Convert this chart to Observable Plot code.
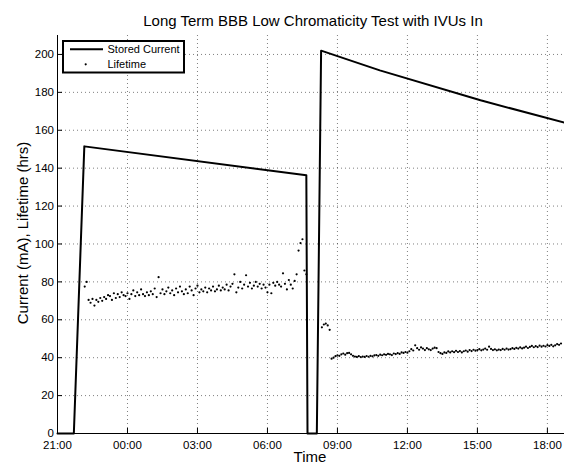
<!DOCTYPE html>
<html><head><meta charset="utf-8">
<script src="https://cdn.jsdelivr.net/npm/d3@7"></script>
<script src="https://cdn.jsdelivr.net/npm/@observablehq/plot@0.6"></script>
<style>
body{margin:0;background:#fff;}
#wrap{position:relative;width:564px;height:466px;overflow:hidden;font-family:"Liberation Sans",Arial,sans-serif;color:#000;}
#chart{position:absolute;left:0;top:0;}
#title{position:absolute;left:57px;width:512px;top:13px;text-align:center;font-size:15px;line-height:15px;white-space:nowrap;}
#ylabel{position:absolute;left:21.5px;top:233px;font-size:15px;line-height:15px;white-space:nowrap;transform:translate(-50%,-50%) rotate(-90deg);}
#xlabel{position:absolute;left:310px;top:449px;font-size:15px;line-height:15px;white-space:nowrap;transform:translateX(-50%);}
#legend{position:absolute;left:60px;top:38px;}
</style></head><body>
<div id="wrap">
<div id="chart"></div>
<div id="title">Long Term BBB Low Chromaticity Test with IVUs In</div>
<div id="ylabel">Current (mA), Lifetime (hrs)</div>
<div id="xlabel">Time</div>
<svg id="legend" width="130" height="40" font-family="Liberation Sans, Arial, sans-serif" font-size="11">
  <rect x="3" y="3" width="121" height="31.5" fill="#fff" stroke="#000" stroke-width="2"></rect>
  <line x1="10" x2="43" y1="11.3" y2="11.3" stroke="#000" stroke-width="2"></line>
  <text x="47.5" y="11.3" dominant-baseline="central">Stored Current</text>
  <circle cx="25.7" cy="26.3" r="1.1" fill="#000"></circle>
  <text x="47.5" y="26.3" dominant-baseline="central">Lifetime</text>
</svg>
</div>
<script>
// ---- data ----
const xTickLabels = ["21:00","00:00","03:00","06:00","09:00","12:00","15:00","18:00"];
const xDomainLabels = ["21:00","18:44"];
const yTicks = [0,20,40,60,80,100,120,140,160,180,200];
const yDomain = [0,210];

// Stored current (mA) breakpoints
const currentTimes = ["21:00","21:42","22:09","07:40","07:43","08:07","08:18","10:49","15:08","18:44"];
const currentValues = [0,0,151.5,136.3,0,0,202.0,191.6,175.8,164.0];

// Lifetime (hrs), sampled every 5 minutes
const stepMinutes = 5;
const life1Start = "22:10";
const life1Values = [
  77.5,80.0,70.5,69.0,71.0,67.5,70.5,69.5,71.5,70.0,
  72.0,71.0,73.0,72.5,70.5,74.0,71.5,73.5,72.0,74.5,73.0,72.5,
  74.0,71.0,73.5,75.5,72.5,74.5,73.0,76.0,73.5,72.5,74.5,73.0,
  75.0,73.5,76.5,72.0,82.5,74.0,76.0,73.5,75.0,77.0,74.0,75.5,
  73.0,76.5,74.5,77.5,75.0,73.5,76.0,74.0,77.5,75.5,73.0,76.5,
  78.0,74.5,76.0,75.0,77.0,74.5,76.5,75.5,77.5,75.0,76.0,78.0,
  75.5,77.0,76.0,78.5,75.5,77.5,79.0,84.0,74.5,77.0,80.0,76.5,
  78.5,83.5,77.5,79.5,76.5,78.0,80.0,77.5,79.0,76.5,78.5,77.0,
  74.5,78.5,74.0,79.5,78.0,80.0,78.5,77.5,84.5,79.0,76.0,81.0,
  78.5,76.5,80.5,84.0,96.5,100.5,102.5,86.0,84.0
];
const life2aStart = "08:20";
const life2aValues = [56.0,57.5,58.0,57.0,54.7];
const life2bStart = "08:45";
const life2bValues = [
  39.5,40.0,40.8,
  41.2,41.0,41.8,42.2,41.6,42.4,42.5,41.8,41.0,40.6,40.4,40.8,
  40.3,40.6,40.4,40.9,40.5,41.0,40.7,41.2,41.4,41.0,41.6,41.3,
  41.8,41.5,42.0,41.8,41.4,42.2,41.9,42.4,42.0,42.8,42.5,43.0,
  42.6,43.4,44.5,43.8,46.5,45.0,44.2,45.4,44.8,44.0,45.0,44.4,
  44.0,44.8,45.3,45.0,43.0,42.4,42.0,42.8,42.5,43.3,42.8,43.4,
  42.9,43.6,43.0,43.5,42.8,43.4,43.8,43.2,44.0,43.5,44.2,43.7,
  44.0,44.5,43.9,44.3,44.8,44.2,45.8,44.6,44.0,44.4,43.9,44.3,
  44.0,44.6,44.2,44.8,44.3,44.5,45.0,44.6,45.2,44.8,45.4,44.9,
  45.3,45.8,45.1,45.7,46.2,45.5,46.1,45.6,46.4,45.8,46.3,45.9,
  46.6,46.2,46.8,46.0,46.5,47.2,46.8,47.5
];

// ---- helpers ----
function toDate(hhmm) {
  const [h, m] = hhmm.split(":").map(Number);
  const day = h >= 20 ? 1 : 2;
  return new Date(Date.UTC(2000, 0, day, h, m));
}
function series(start, values) {
  const t0 = toDate(start).getTime();
  return values.map((v, i) => ({t: new Date(t0 + i * stepMinutes * 60000), v}));
}

const current = currentTimes.map((s, i) => ({t: toDate(s), v: currentValues[i]}));
const life = [
  ...series(life1Start, life1Values),
  ...series(life2aStart, life2aValues),
  ...series(life2bStart, life2bValues)
];
const xTicks = xTickLabels.map(toDate);
const xDomain = xDomainLabels.map(toDate);
const fmt = d3.utcFormat("%H:%M");
const gridStyle = {stroke: "#000", strokeOpacity: 0.5, strokeDasharray: "1,3"};

const chart = Plot.plot({
  width: 564, height: 466,
  marginLeft: 57, marginRight: 0, marginTop: 35, marginBottom: 33,
  style: {fontFamily: "Liberation Sans, Arial, sans-serif", fontSize: "11.5px", color: "#000", background: "transparent", overflow: "visible"},
  x: {type: "utc", domain: xDomain},
  y: {domain: yDomain},
  marks: [
    Plot.gridX(xTicks, gridStyle),
    Plot.gridY(yTicks, gridStyle),
    Plot.axisX(xTicks, {tickSize: 0, tickPadding: 7, tickFormat: fmt, label: null}),
    Plot.axisX(xTicks, {tickSize: 5, dy: -5, tickFormat: () => "", label: null}),
    Plot.axisY(yTicks, {tickSize: 0, tickPadding: 3.5, label: null}),
    Plot.axisY(yTicks, {tickSize: 5, dx: 5, tickFormat: () => "", label: null}),
    Plot.ruleY([0], {stroke: "#000"}),
    Plot.ruleX([xDomain[0]], {stroke: "#000"}),
    Plot.dot(life, {x: "t", y: "v", r: 1.1, fill: "#000", stroke: null}),
    Plot.line(current, {x: "t", y: "v", stroke: "#000", strokeWidth: 2})
  ]
});
document.getElementById("chart").appendChild(chart);
</script>
</body></html>
